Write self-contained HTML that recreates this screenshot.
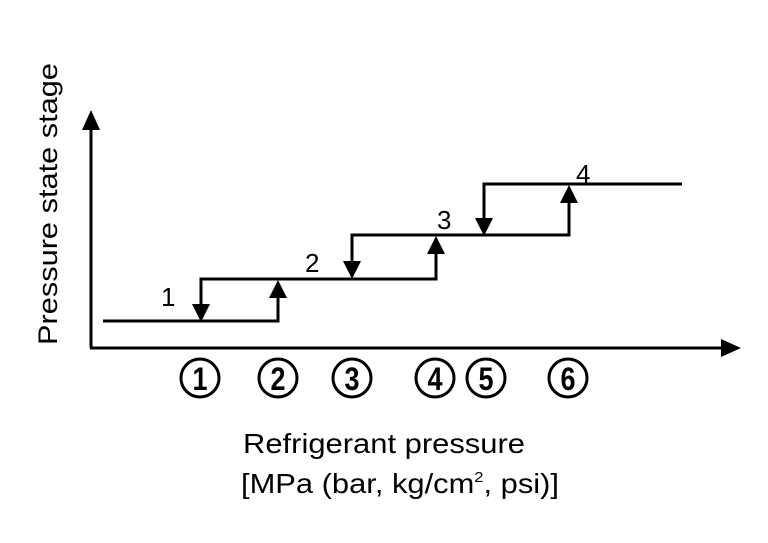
<!DOCTYPE html>
<html><head><style>body{margin:0;background:#fff}svg{display:block}</style></head>
<body>
<svg width="768" height="543" viewBox="0 0 768 543" xmlns="http://www.w3.org/2000/svg" font-family="Liberation Sans, Arial, sans-serif">
<g stroke="#000" stroke-width="3" fill="none">
<line x1="91" y1="348" x2="91" y2="128"/>
<line x1="90" y1="348" x2="722" y2="348"/>
<polyline points="103,321 278,321 278,296"/>
<polyline points="201,304 201,279 436,279 436,252"/>
<polyline points="352,262 352,235 569,235 569,201"/>
<polyline points="484,218 484,184 682,184"/>
</g>
<g fill="#000">
<polygon points="91,110 82,130 100,130"/>
<polygon points="741,348 721,339 721,357"/>
<polygon points="201,322 192,304 210,304"/>
<polygon points="278,280 269,298 287,298"/>
<polygon points="352,279 343,261 361,261"/>
<polygon points="436,236 427,254 445,254"/>
<polygon points="484,236 475,218 493,218"/>
<polygon points="569,185 560,203 578,203"/>
</g>
<g font-size="26" fill="#000">
<text x="161" y="306">1</text>
<text x="305" y="272">2</text>
<text x="437" y="229">3</text>
<text x="576" y="183">4</text>
</g>
<g stroke="#000" stroke-width="3" fill="none">
<circle cx="200" cy="378" r="19"/>
<circle cx="278" cy="378" r="19"/>
<circle cx="352" cy="378" r="19"/>
<circle cx="435" cy="378" r="19"/>
<circle cx="486" cy="378" r="19"/>
<circle cx="568" cy="378" r="19"/>
</g>
<g font-size="32" font-weight="bold" text-anchor="middle" fill="#000">
<text x="200" y="390" textLength="15" lengthAdjust="spacingAndGlyphs">1</text>
<text x="278" y="390" textLength="15" lengthAdjust="spacingAndGlyphs">2</text>
<text x="352" y="390" textLength="15" lengthAdjust="spacingAndGlyphs">3</text>
<text x="435" y="390" textLength="15" lengthAdjust="spacingAndGlyphs">4</text>
<text x="486" y="390" textLength="15" lengthAdjust="spacingAndGlyphs">5</text>
<text x="568" y="390" textLength="15" lengthAdjust="spacingAndGlyphs">6</text>
</g>
<text x="243" y="453" font-size="28" textLength="282" lengthAdjust="spacingAndGlyphs">Refrigerant pressure</text>
<text x="241" y="493" font-size="28" textLength="318" lengthAdjust="spacingAndGlyphs">[MPa (bar, kg/cm<tspan font-size="15" dy="-11">2</tspan><tspan dy="11">, psi)]</tspan></text>
<text transform="translate(57,345) rotate(-90)" font-size="27" textLength="282" lengthAdjust="spacingAndGlyphs">Pressure state stage</text>
</svg>
</body></html>
